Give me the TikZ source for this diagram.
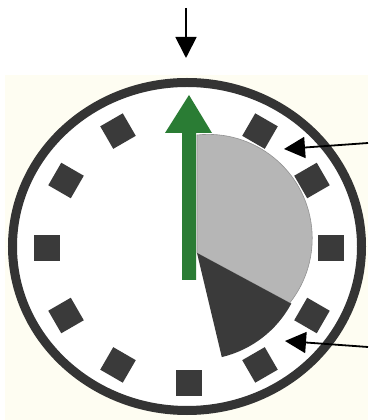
\documentclass[tikz,border=0pt]{standalone}
\usepackage{tikz}
\usetikzlibrary{arrows.meta,calc}
\definecolor{ink}{RGB}{52,52,52}
\definecolor{cream}{RGB}{254,253,242}
\definecolor{handG}{RGB}{42,124,52}
\definecolor{pieL}{RGB}{182,182,182}
\definecolor{pieD}{RGB}{58,58,58}
\tikzset{
  tick/.style={fill=pieD,minimum size=26pt,inner sep=0pt,outer sep=0pt},
  rim/.style={draw=ink,line width=9pt,fill=white},
  ptr/.style={-{Triangle[length=21pt,width=21pt]},line width=1.8pt,black},
}
\begin{document}
\begin{tikzpicture}[x=1pt,y=1pt]
  \useasboundingbox (0,0) rectangle (368,420);
  \fill[cream] (5,0) rectangle (368,345);
  % dial
  \draw[rim] (187,173.5) ellipse [x radius=174.5,y radius=164];
  \foreach \h in {1,...,11}{
    \pgfmathsetmacro{\a}{90-30*\h}
    \node[tick,rotate=\a] (m\h) at ({189+142*cos(\a)},{172+135*sin(\a)}) {};
  }
  % sectors
  \coordinate (ctr) at (197,167);
  \coordinate (cut) at ($(ctr)+(-28.3:107)$);
  \fill[pieL,draw=pieL!80!black,line width=0.6pt]
    (ctr) -- (197,285) arc[start angle=96.2,end angle=-38.3,radius=104] -- (cut) -- cycle;
  \fill[pieD] (ctr) -- (cut) arc[start angle=-28.3,end angle=-76.6,radius=107] -- cycle;
  % hand
  \fill[handG] (182,140) -- (196,140) -- (196,287) -- (212,287) -- (189,325)
    -- (165,287) -- (182,287) -- cycle;
  % pointers
  \coordinate (topS) at (186,412); \coordinate (topT) at (186,362);
  \coordinate (upS) at (368,277);  \coordinate (upT) at (284,271);
  \coordinate (loS) at (368,73);   \coordinate (loT) at (285,79);
  \draw[ptr] (topS) -- (topT);
  \draw[ptr] (upS) -- (upT);
  \draw[ptr] (loS) -- (loT);
\end{tikzpicture}
\end{document}
